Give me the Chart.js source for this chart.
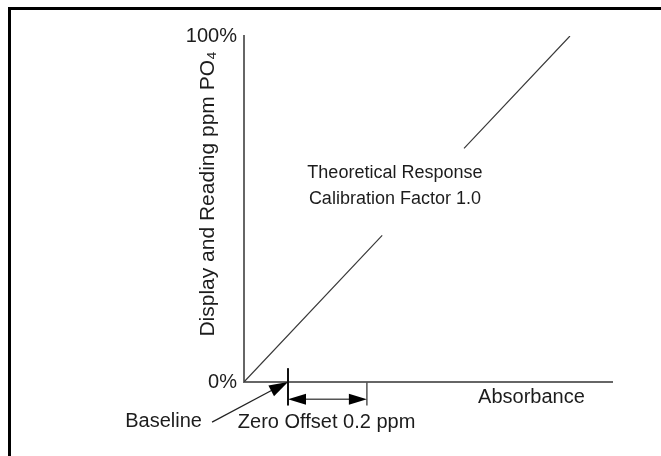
<!DOCTYPE html>
<html>
<head>
<meta charset="utf-8">
<script src="https://cdn.jsdelivr.net/npm/chart.js@4/dist/chart.umd.min.js"></script>
<style>
html,body{margin:0;padding:0;background:#fff;overflow:hidden;}
#wrap{width:661px;height:456px;position:relative;overflow:hidden;}
canvas{display:block;}
</style>
</head>
<body>
<div id="wrap"><canvas id="c" width="661" height="456"></canvas></div>
<script>
// ---- data ----
const responseX = [0, 42.4, 54, 67.5, 100];      // absorbance (relative units)
const responseY = [0, 42.4, null, 67.5, 100];    // display reading %, theoretical y = x (gap for label)
const yTicks = [0, 100];
const xMax = 112.9;
const offsetStart = 13.5;   // baseline position on absorbance axis
const offsetEnd = 37.7;     // end of 0.2 ppm zero offset span
const yTitle = 'Display and Reading ppm PO\u2084';
const xTitle = 'Absorbance';
const lineLabel = ['Theoretical Response', 'Calibration Factor 1.0'];
const baselineLabel = 'Baseline';
const offsetLabel = 'Zero Offset 0.2 ppm';

const FAMILY = '"Liberation Sans", Arial, sans-serif';
const TXT = '#1c1c1c';

function arrowHead(ctx, x1, y1, x2, y2, len, half) {
  const a = Math.atan2(y2 - y1, x2 - x1);
  ctx.beginPath();
  ctx.moveTo(x2, y2);
  ctx.lineTo(x2 - len * Math.cos(a) + half * Math.sin(a), y2 - len * Math.sin(a) - half * Math.cos(a));
  ctx.lineTo(x2 - len * Math.cos(a) - half * Math.sin(a), y2 - len * Math.sin(a) + half * Math.cos(a));
  ctx.closePath();
  ctx.fill();
}

const annotations = {
  id: 'annotations',
  beforeDraw(chart) {
    const ctx = chart.ctx;
    ctx.save();
    ctx.fillStyle = '#fff';
    ctx.fillRect(0, 0, chart.width, chart.height);
    ctx.fillStyle = '#000';
    ctx.fillRect(8, 7, chart.width - 8, 3);   // top frame edge
    ctx.fillRect(8, 7, 3, chart.height - 7);  // left frame edge
    ctx.restore();
  },
  afterDraw(chart) {
    const ctx = chart.ctx;
    const xs = chart.scales.x, ys = chart.scales.y;
    const X = v => xs.getPixelForValue(v), Y = v => ys.getPixelForValue(v);
    ctx.save();
    ctx.fillStyle = TXT;
    ctx.textBaseline = 'middle';

    // line label
    ctx.font = '18px ' + FAMILY;
    ctx.textAlign = 'center';
    ctx.fillText(lineLabel[0], X(46.3), Y(60.4));
    ctx.fillText(lineLabel[1], X(46.3), Y(53.0));

    // x title
    ctx.font = '20px ' + FAMILY;
    ctx.fillText(xTitle, X(88.2), Y(-4.4));

    // y title
    ctx.save();
    ctx.font = '21px ' + FAMILY;
    ctx.translate(208, 194);
    ctx.rotate(-Math.PI / 2);
    ctx.fillText(yTitle, 0, 0);
    ctx.restore();

    // baseline tick
    ctx.strokeStyle = '#111';
    ctx.lineWidth = 2;
    ctx.beginPath();
    ctx.moveTo(X(offsetStart), Y(4.0));
    ctx.lineTo(X(offsetStart), Y(-6.8));
    ctx.stroke();
    // offset end tick
    ctx.strokeStyle = '#555';
    ctx.lineWidth = 1.5;
    ctx.beginPath();
    ctx.moveTo(X(offsetEnd), Y(0));
    ctx.lineTo(X(offsetEnd), Y(-6.8));
    ctx.stroke();

    // double arrow
    const ay = Y(-5.0);
    ctx.strokeStyle = '#555';
    ctx.lineWidth = 1.5;
    ctx.beginPath();
    ctx.moveTo(X(offsetStart) + 10, ay);
    ctx.lineTo(X(offsetEnd) - 10, ay);
    ctx.stroke();
    ctx.fillStyle = '#000';
    arrowHead(ctx, X(offsetEnd), ay, X(offsetStart), ay, 18, 5.5);
    arrowHead(ctx, X(offsetStart), ay, X(offsetEnd), ay, 18, 5.5);

    // baseline arrow
    const bx1 = X(-9.8), by1 = Y(-11.6), bx2 = X(offsetStart), by2 = Y(0);
    ctx.strokeStyle = '#222';
    ctx.lineWidth = 1.2;
    ctx.beginPath();
    ctx.moveTo(bx1, by1);
    ctx.lineTo(bx2 - 10, by2 + 5);
    ctx.stroke();
    arrowHead(ctx, bx1, by1, bx2, by2, 19, 6);

    // labels below
    ctx.fillStyle = TXT;
    ctx.font = '20px ' + FAMILY;
    ctx.textAlign = 'right';
    ctx.fillText(baselineLabel, X(-12.9), Y(-11.3));
    ctx.textAlign = 'left';
    ctx.fillText(offsetLabel, X(-1.9), Y(-11.6));
    ctx.restore();
  }
};

new Chart(document.getElementById('c'), {
  type: 'scatter',
  data: {
    datasets: [{
      data: responseX.map((x, i) => ({ x: x, y: responseY[i] })),
      showLine: true,
      spanGaps: false,
      borderColor: '#3a3a3a',
      borderWidth: 1.2,
      pointRadius: 0,
      fill: false
    }]
  },
  options: {
    responsive: false,
    animation: false,
    devicePixelRatio: 1,
    layout: { padding: { left: 0, top: 36, right: 49, bottom: 0 } },
    plugins: { legend: { display: false }, tooltip: { enabled: false }, title: { display: false } },
    scales: {
      x: {
        type: 'linear', min: 0, max: xMax,
        grid: { display: false, drawTicks: false },
        border: { display: true, color: '#666', width: 2 },
        ticks: { display: false },
        afterFit(s) { s.height = 74; }
      },
      y: {
        type: 'linear', min: 0, max: 100,
        grid: { display: false, drawTicks: false },
        border: { display: true, color: '#666', width: 2 },
        afterBuildTicks(s) { s.ticks = yTicks.map(v => ({ value: v })); },
        ticks: {
          padding: 7,
          color: TXT,
          font: { family: FAMILY, size: 20 },
          callback: v => v + '%'
        },
        afterFit(s) { s.width = 244; }
      }
    }
  },
  plugins: [annotations]
});
</script>
</body>
</html>
